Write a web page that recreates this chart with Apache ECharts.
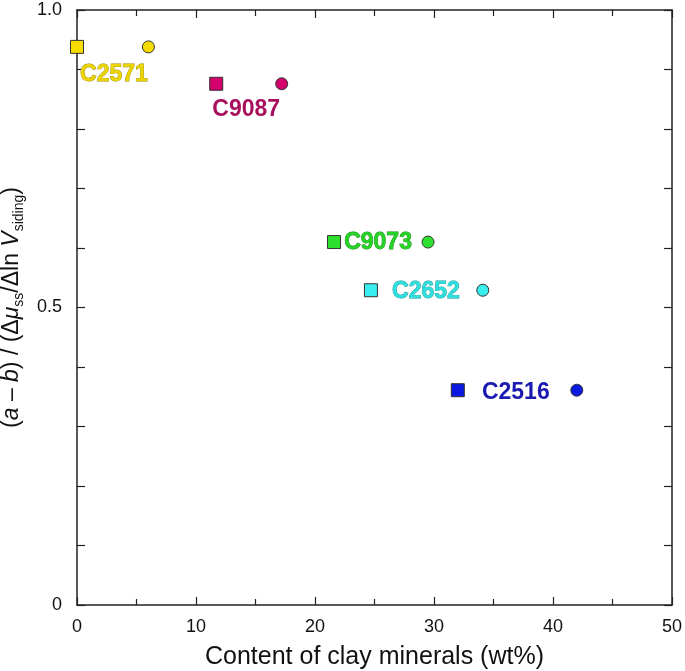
<!DOCTYPE html>
<html>
<head>
<meta charset="utf-8">
<script src="https://cdn.jsdelivr.net/npm/echarts@6/dist/echarts.min.js"></script>
<style>html,body{margin:0;padding:0;background:#fff}#c{width:685px;height:671px}</style>
</head>
<body>
<div id="c"></div>
<script>
const samples = ['C2571', 'C9087', 'C9073', 'C2652', 'C2516'];
const squareClay = [0, 11.7, 21.6, 24.7, 32.0];
const circleClay = [6.0, 17.2, 29.5, 34.1, 42.0];
const ratio = [0.938, 0.876, 0.610, 0.529, 0.361];
const xTicks = [0, 10, 20, 30, 40, 50];
const yTicks = [0, 0.5, 1.0];

const markerColors = ['#f7dc00', '#d4006e', '#2ee02e', '#38eeee', '#0b1ae0'];
const labelFill = ['#ecd400', '#a8105e', '#26d226', '#30dede', '#1a1ab0'];
const labelStroke = ['#9c8a00', '#a8105e', '#128812', '#159a9a', '#1a1ab0'];
const labelOffsets = [[37, 28], [30, 26], [44, 1], [55, 1], [58, 2]];

const font = '"Liberation Sans", Arial, Helvetica, sans-serif';

const squares = samples.map((s, i) => ({
  value: [squareClay[i], ratio[i]],
  itemStyle: { color: markerColors[i] },
  label: {
    show: true, formatter: s, position: 'inside', offset: labelOffsets[i],
    color: labelFill[i], textBorderColor: labelStroke[i], textBorderWidth: i === 1 || i === 4 ? 0 : 0.8,
    fontSize: 23, fontWeight: 'bold', fontFamily: font
  }
}));
const circles = samples.map((s, i) => ({
  value: [circleClay[i], ratio[i]],
  itemStyle: { color: markerColors[i] }
}));

const tickStyle = { color: '#222', width: 1.2 };
function axisLine() { return { show: true, onZero: false, lineStyle: { color: '#222', width: 1.5 } }; }

const chart = echarts.init(document.getElementById('c'));
chart.setOption({
  animation: false,
  grid: { left: 77, right: 13, top: 10, bottom: 66, containLabel: false, outerBoundsMode: 'none' },
  xAxis: [
    {
      type: 'value', min: 0, max: 50, interval: 10, position: 'bottom',
      axisLine: axisLine(), splitLine: { show: false },
      axisTick: { show: true, inside: true, length: 8, lineStyle: tickStyle },
      minorTick: { show: true, splitNumber: 2, length: 6, lineStyle: tickStyle },
      axisLabel: { margin: 13, fontSize: 18, color: '#111', fontFamily: font,
        formatter: v => xTicks.includes(v) ? String(v) : '' },
      name: 'Content of clay minerals (wt%)', nameLocation: 'middle', nameGap: 40,
      nameTextStyle: { fontSize: 25, color: '#111', fontFamily: font }
    },
    {
      type: 'value', min: 0, max: 50, interval: 10, position: 'top',
      axisLine: axisLine(), splitLine: { show: false },
      axisTick: { show: true, inside: true, length: 8, lineStyle: tickStyle },
      minorTick: { show: true, splitNumber: 2, length: 6, lineStyle: tickStyle },
      axisLabel: { show: false }
    }
  ],
  yAxis: [
    {
      type: 'value', min: 0, max: 1, interval: 0.5, position: 'left',
      axisLine: axisLine(), splitLine: { show: false },
      axisTick: { show: true, inside: true, length: 8, lineStyle: tickStyle },
      minorTick: { show: true, splitNumber: 5, length: 8, lineStyle: tickStyle },
      axisLabel: { margin: 15, fontSize: 18, color: '#111', fontFamily: font,
        formatter: v => yTicks.includes(v) ? (v === 0 ? '0' : v.toFixed(1)) : '' },
      name: '{n|(}{i|a}{n| – }{i|b}{n|) / (Δ}{i|μ}{s|ss}{n|/Δln }{i|V}{s|siding}{n|)}',
      nameLocation: 'middle', nameGap: 48, nameRotate: 90,
      nameTextStyle: {
        fontSize: 23, color: '#111', fontFamily: font,
        rich: {
          n: { fontSize: 23, fontFamily: font, color: '#111', lineHeight: 28, verticalAlign: 'middle' },
          i: { fontSize: 23, fontFamily: font, fontStyle: 'italic', color: '#111', lineHeight: 28, verticalAlign: 'middle' },
          s: { fontSize: 14, fontFamily: font, color: '#111', lineHeight: 14, verticalAlign: 'bottom' }
        }
      }
    },
    {
      type: 'value', min: 0, max: 1, interval: 0.5, position: 'right',
      axisLine: axisLine(), splitLine: { show: false },
      axisTick: { show: true, inside: true, length: 8, lineStyle: tickStyle },
      minorTick: { show: true, splitNumber: 5, length: 8, lineStyle: tickStyle },
      axisLabel: { show: false }
    }
  ],
  series: [
    {
      type: 'scatter', symbol: 'rect', symbolSize: 13, data: squares, z: 3,
      itemStyle: { borderColor: '#333', borderWidth: 1, opacity: 1 }
    },
    {
      type: 'scatter', symbol: 'circle', symbolSize: 12, data: circles, z: 3,
      itemStyle: { borderColor: '#333', borderWidth: 1, opacity: 1 }
    }
  ]
});
</script>
</body>
</html>
